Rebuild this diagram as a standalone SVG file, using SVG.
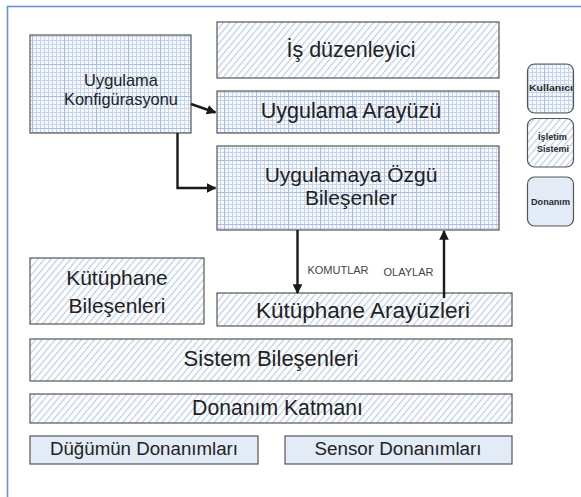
<svg xmlns="http://www.w3.org/2000/svg" width="581" height="497" viewBox="0 0 581 497">
  <style>
    text { font-family: "Liberation Sans", Arial, sans-serif; fill: #222; text-anchor: middle; }
    .box { stroke: #555; stroke-width: 1.2; }
    .grid { fill: url(#gridFill); }
    .hatch { fill: url(#hatchFill); }
    .plain { fill: #e3ebf6; }
    .legend text { font-weight: bold; font-size: 8.5px; fill: #2a2a2a; }
    .conn { stroke: #1a1a1a; stroke-width: 2.4; fill: none; }
    .tag { font-size: 11px; fill: #444; }
  </style>
  <defs>
    <!-- fine blue graph-paper fill with slightly stronger major lines -->
    <pattern id="gridFill" width="32" height="32" patternUnits="userSpaceOnUse">
      <rect width="32" height="32" fill="#f6f8fc"/>
      <path d="M0 0.5H32M0 4.5H32M0 8.5H32M0 12.5H32M0 16.5H32M0 20.5H32M0 24.5H32M0 28.5H32M0.5 0V32M4.5 0V32M8.5 0V32M12.5 0V32M16.5 0V32M20.5 0V32M24.5 0V32M28.5 0V32" stroke="#c6d5ec" stroke-width="1"/>
      <path d="M0 0.5H32M0.5 0V32" stroke="#a9bfe2" stroke-width="1.2"/>
    </pattern>
    <!-- light diagonal hatching -->
    <pattern id="hatchFill" width="5" height="5" patternUnits="userSpaceOnUse" patternTransform="rotate(40)">
      <rect width="5" height="5" fill="#ffffff"/>
      <line x1="0.6" y1="0" x2="0.6" y2="5" stroke="#bccde7" stroke-width="1.2"/>
    </pattern>
    <marker id="arrow" viewBox="0 0 10 10" refX="9" refY="5" markerWidth="4" markerHeight="4" markerUnits="strokeWidth" orient="auto">
      <path d="M0 0L10 5L0 10z" fill="#1a1a1a"/>
    </marker>
  </defs>

  <rect width="581" height="497" fill="#ffffff"/>
  <!-- outer frame -->
  <rect x="7.5" y="6.5" width="600" height="520" fill="none" stroke="#6b94cf" stroke-width="1.6"/>

  <g id="uygulama-konfigurasyonu">
    <rect class="box grid" x="30" y="35" width="161" height="98"/>
    <text x="121" y="86" font-size="16.4">Uygulama</text>
    <text x="121" y="105" font-size="16.4">Konfigürasyonu</text>
  </g>

  <g id="is-duzenleyici">
    <rect class="box hatch" x="217" y="22" width="282" height="56"/>
    <text x="351" y="57" font-size="21.5">İş düzenleyici</text>
  </g>

  <g id="uygulama-arayuzu">
    <rect class="box grid" x="217" y="91" width="282" height="42"/>
    <text x="351" y="117.5" font-size="21.5">Uygulama Arayüzü</text>
  </g>

  <g id="uygulamaya-ozgu-bilesenler">
    <rect class="box grid" x="217" y="146" width="282" height="84"/>
    <text x="351" y="181.5" font-size="21">Uygulamaya Özgü</text>
    <text x="351" y="205" font-size="21">Bileşenler</text>
  </g>

  <g id="kutuphane-bilesenleri">
    <rect class="box hatch" x="30" y="258" width="174" height="66"/>
    <text x="117" y="285" font-size="21">Kütüphane</text>
    <text x="117" y="313" font-size="21">Bileşenleri</text>
  </g>

  <g id="kutuphane-arayuzleri">
    <rect class="box hatch" x="217" y="293" width="295" height="33"/>
    <text x="363" y="318" font-size="22.5">Kütüphane Arayüzleri</text>
  </g>

  <g id="sistem-bilesenleri">
    <rect class="box hatch" x="30" y="339" width="482" height="42"/>
    <text x="271" y="366" font-size="22">Sistem Bileşenleri</text>
  </g>

  <g id="donanim-katmani">
    <rect class="box hatch" x="30" y="394" width="482" height="29"/>
    <text x="277.5" y="415" font-size="21.2">Donanım Katmanı</text>
  </g>

  <g id="dugumun-donanimlari">
    <rect class="box plain" x="30" y="436" width="228" height="28"/>
    <text x="144" y="455" font-size="18.7">Düğümün Donanımları</text>
  </g>

  <g id="sensor-donanimlari">
    <rect class="box plain" x="285" y="436" width="227" height="28"/>
    <text x="398" y="455" font-size="18.8">Sensor Donanımları</text>
  </g>

  <!-- legend -->
  <g id="legend" class="legend">
    <g id="legend-kullanici">
      <rect class="box grid" x="527.5" y="64" width="46" height="49" rx="7"/>
      <text x="551" y="91" textLength="44" lengthAdjust="spacingAndGlyphs">Kullanıcı</text>
    </g>
    <g id="legend-isletim-sistemi">
      <rect class="box hatch" x="527.5" y="118.5" width="46" height="48.5" rx="7"/>
      <text x="552.5" y="140" textLength="29" lengthAdjust="spacingAndGlyphs">İşletim</text>
      <text x="553" y="151.5" textLength="32" lengthAdjust="spacingAndGlyphs">Sistemi</text>
    </g>
    <g id="legend-donanim">
      <rect class="box plain" x="527.5" y="177" width="46" height="49" rx="7"/>
      <text x="550.5" y="204.5" textLength="39" lengthAdjust="spacingAndGlyphs">Donanım</text>
    </g>
  </g>

  <!-- connectors -->
  <g id="connectors">
    <line class="conn" x1="191" y1="104" x2="215.5" y2="112.5" marker-end="url(#arrow)"/>
    <polyline class="conn" points="177.5,133 177.5,188 215.5,188" marker-end="url(#arrow)"/>
    <line class="conn" x1="297.5" y1="230" x2="297.5" y2="293" marker-end="url(#arrow)"/>
    <line class="conn" x1="444" y1="298" x2="444" y2="231" marker-end="url(#arrow)"/>
    <text class="tag" x="338" y="273.5">KOMUTLAR</text>
    <text class="tag" x="408.5" y="275.5">OLAYLAR</text>
  </g>
</svg>
